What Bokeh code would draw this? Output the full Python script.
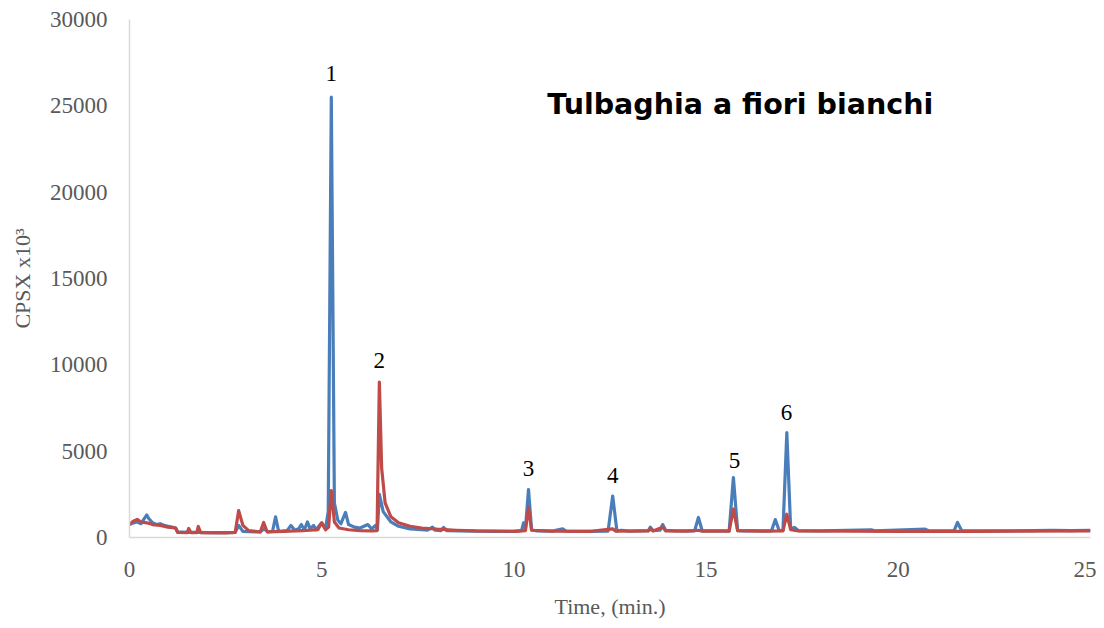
from bokeh.plotting import figure
from bokeh.models import Range1d, ColumnDataSource
from bokeh.core.properties import value
from bokeh.embed import file_html
from bokeh.resources import INLINE

# Chromatogram traces (time in min, CPSX x10^3)
blue_t = [0.0, 0.1, 0.2, 0.3, 0.4, 0.45, 0.5, 0.6, 0.7, 0.8, 0.9, 1.0, 1.1, 1.2, 1.25, 1.5, 1.8, 2.0, 2.5,
          2.75, 2.84, 2.95, 3.4, 3.5, 3.6, 3.72, 3.8, 3.88, 4.1, 4.2, 4.3, 4.4, 4.47, 4.55, 4.63, 4.7,
          4.79, 4.85, 5.0, 5.1, 5.17, 5.25, 5.33, 5.42, 5.5, 5.62, 5.7, 5.85, 6.0, 6.2, 6.3, 6.4, 6.45,
          6.5, 6.6, 6.8, 7.0, 7.3, 7.6, 7.75, 7.88, 7.95, 8.1, 8.17, 8.25, 8.6, 9.0, 9.5, 10.0, 10.2,
          10.25, 10.3, 10.38, 10.46, 10.6, 11.0, 11.27, 11.35, 12.0, 12.45, 12.57, 12.68, 12.8, 13.0,
          13.5, 13.55, 13.62, 13.8, 13.87, 13.95, 14.2, 14.7, 14.8, 14.9, 15.6, 15.71, 15.82, 16.0,
          16.7, 16.8, 16.9, 17.0, 17.1, 17.2, 17.3, 17.4, 18.0, 19.3, 19.4, 20.7, 20.8, 21.45, 21.54,
          21.65, 22.5, 23.5, 24.0, 24.5, 25.0]
blue_v = [750, 850, 900, 800, 1150, 1300, 1100, 850, 750, 800, 700, 650, 600, 550, 330, 300, 300, 280, 280,
          300, 700, 350, 320, 500, 330, 350, 1200, 350, 400, 700, 420, 500, 750, 450, 900, 500,
          700, 450, 850, 500, 1500, 25500, 2000, 1000, 800, 1450, 750, 600, 550, 750, 500, 700, 450,
          2500, 1500, 900, 650, 500, 450, 420, 600, 420, 400, 580, 400, 380, 370, 360, 360, 400,
          850, 500, 2780, 450, 380, 370, 500, 370, 360, 370, 2400, 380, 420, 370,
          400, 600, 400, 420, 750, 420, 380, 380, 1160, 380, 380, 3475, 400, 380,
          380, 1040, 400, 420, 6080, 500, 580, 400, 380, 450, 380, 480, 380, 390, 870,
          390, 380, 400, 420, 400, 420]

red_t = [0.0, 0.1, 0.2, 0.3, 0.45, 0.6, 0.8, 1.0, 1.2, 1.25, 1.5, 1.54, 1.6, 1.75, 1.79, 1.85, 2.5, 2.75,
         2.84, 2.95, 3.1, 3.4, 3.49, 3.58, 4.0, 4.5, 4.9, 5.0, 5.1, 5.18, 5.25, 5.33, 5.45, 5.7, 6.0,
         6.3, 6.44, 6.5, 6.56, 6.65, 6.8, 7.0, 7.3, 7.6, 8.0, 8.5, 9.0, 10.0, 10.3, 10.38, 10.46, 11.0,
         12.0, 12.57, 12.65, 13.5, 13.55, 13.62, 13.87, 13.95, 14.5, 14.8, 14.9, 15.6, 15.71, 15.82,
         16.5, 17.0, 17.1, 17.2, 17.4, 20.0, 22.0, 25.0]
red_v = [750, 950, 1050, 900, 850, 750, 700, 600, 550, 300, 280, 520, 280, 280, 640, 280, 260, 300,
         1560, 700, 400, 320, 870, 330, 350, 400, 450, 850, 450, 600, 2720, 900, 550, 450, 400,
         380, 400, 9000, 4000, 2000, 1200, 850, 650, 550, 480, 420, 380, 360, 400, 1740, 420, 370,
         360, 500, 370, 380, 500, 380, 600, 380, 370, 420, 370, 370, 1650, 400,
         370, 380, 1350, 450, 380, 360, 360, 380]

peak_labels = ["1", "2", "3", "4", "5", "6"]
peak_t = [5.25, 6.5, 10.38, 12.57, 15.74, 17.09]
peak_label_v = [26870, 10250, 4000, 3590, 4460, 7240]

title_text = "Tulbaghia a fiori bianchi"
x_ticks = [0, 5, 10, 15, 20, 25]
y_ticks = [0, 5000, 10000, 15000, 20000, 25000, 30000]

p = figure(width=1096, height=621, output_backend="svg", toolbar_location=None,
           x_range=Range1d(0, 25), y_range=Range1d(0, 30000),
           min_border_left=129, min_border_right=6, min_border_top=19, min_border_bottom=75)
p.outline_line_color = None
p.xgrid.grid_line_color = None
p.ygrid.grid_line_color = None
p.background_fill_color = "white"

p.line(blue_t, blue_v, line_color="#4A7EBB", line_width=3.2, line_join="round")
p.line(red_t, red_v, line_color="#BE4B48", line_width=3.2, line_join="round")

src = ColumnDataSource(dict(x=peak_t, y=peak_label_v, t=peak_labels))
p.text(x="x", y="y", text="t", source=src, text_align="center", text_baseline="middle",
       text_font=value("Liberation Serif"), text_font_size="23px", text_color="black")

p.text(x=[10.87], y=[25080], text=[title_text], text_align="left", text_baseline="middle",
       text_font=value("DejaVu Sans"), text_font_style="bold", text_font_size="28.5px",
       text_color="black")

for ax in (p.xaxis[0], p.yaxis[0]):
    ax.axis_line_color = "#D9D9D9"
    ax.axis_line_width = 1.5
    ax.major_tick_line_color = None
    ax.minor_tick_line_color = None
    ax.major_tick_out = 0
    ax.major_tick_in = 0
    ax.minor_tick_out = 0
    ax.major_label_text_font = "Liberation Serif"
    ax.major_label_text_font_size = "23px"
    ax.major_label_text_color = "#595959"
    ax.axis_label_text_font = "Liberation Serif"
    ax.axis_label_text_font_size = "22px"
    ax.axis_label_text_color = "#595959"
    ax.axis_label_text_font_style = "normal"

p.xaxis.ticker = x_ticks
p.yaxis.ticker = y_ticks
p.xaxis.axis_label = "Time, (min.)"
p.yaxis.axis_label = "CPSX x10\u00b3"
p.xaxis.major_label_standoff = 24
p.yaxis.major_label_standoff = 22
p.xaxis.axis_label_standoff = 14
p.yaxis.axis_label_standoff = 12

open("out.html", "w").write(file_html(p, INLINE))
